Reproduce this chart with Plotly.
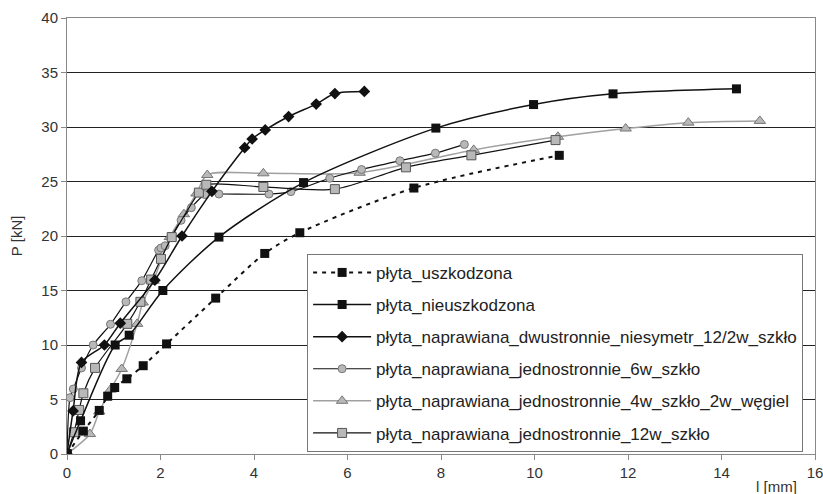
import plotly.graph_objects as go

# ---- data (deflection l [mm], load P [kN]) ----
names = [
    "płyta_uszkodzona",
    "płyta_nieuszkodzona",
    "płyta_naprawiana_dwustronnie_niesymetr_12/2w_szkło",
    "płyta_naprawiana_jednostronnie_6w_szkło",
    "płyta_naprawiana_jednostronnie_4w_szkło_2w_węgiel",
    "płyta_naprawiana_jednostronnie_12w_szkło",
]

uszk_x = [0, 0.35, 0.69, 0.87, 1.02, 1.28, 1.63, 2.13, 3.18, 4.23, 4.98, 7.42, 10.53]
uszk_y = [0, 2.1, 4.0, 5.3, 6.1, 6.9, 8.1, 10.1, 14.3, 18.4, 20.3, 24.4, 27.4]

nieuszk_x = [0, 0.29, 1.03, 1.33, 2.05, 3.25, 5.06, 7.89, 9.98, 11.68, 14.32]
nieuszk_y = [0, 3.05, 10.0, 10.9, 15.0, 19.9, 24.9, 29.9, 32.06, 33.04, 33.5]

dwu_x = [0, 0.13, 0.31, 0.8, 1.14, 1.88, 2.46, 3.1, 3.8, 3.96, 4.24, 4.74, 5.33, 5.73, 6.36]
dwu_y = [0, 3.95, 8.4, 10.0, 12.0, 15.95, 20.0, 24.1, 28.1, 28.9, 29.73, 30.96, 32.1, 33.07, 33.26]

w6_x = [0, 0.064, 0.135, 0.31, 0.56, 0.93, 1.26, 1.6, 1.96, 2.01, 2.1, 2.44, 2.66, 2.95, 3.25,
        4.32, 4.79, 5.62, 6.3, 7.12, 7.88, 8.5]
w6_y = [0, 5.17, 5.96, 7.9, 10.0, 11.9, 13.96, 15.9, 18.7, 18.9, 19.1, 21.44, 22.6, 23.8, 23.85,
        23.85, 24.07, 25.3, 26.1, 26.9, 27.6, 28.4]

w4_x = [0, 0.49, 0.69, 0.93, 1.17, 1.5, 1.62, 1.85, 2.2, 2.5, 2.77, 3.0, 4.2, 6.26, 8.7, 10.5,
        11.95, 13.29, 14.82]
w4_y = [0, 1.83, 3.9, 5.9, 7.8, 11.94, 13.9, 15.9, 19.9, 22.0, 23.9, 25.6, 25.75, 25.8, 27.9, 29.1,
        29.86, 30.4, 30.56]

w12_x = [0, 0.15, 0.26, 0.35, 0.6, 1.29, 1.57, 1.8, 2.01, 2.24, 2.82, 2.98, 4.2, 5.73, 7.25, 8.65, 10.45]
w12_y = [0, 2.0, 4.04, 5.57, 7.9, 11.94, 13.96, 16.0, 17.9, 19.9, 23.98, 24.7, 24.5, 24.3, 26.3, 27.4, 28.8]

x_ticks = [0, 2, 4, 6, 8, 10, 12, 14, 16]
y_ticks = [0, 5, 10, 15, 20, 25, 30, 35, 40]

# ---- styles ----
BLACK = "#111111"
GREYF = "#b8b8b8"
GREYL = "#777777"
series = [
    (uszk_x, uszk_y, dict(color=BLACK, width=2, dash="4px,5px"),
     dict(symbol="square", size=9, color=BLACK)),
    (nieuszk_x, nieuszk_y, dict(color=BLACK, width=1.5),
     dict(symbol="square", size=9, color=BLACK)),
    (dwu_x, dwu_y, dict(color=BLACK, width=1.5),
     dict(symbol="diamond", size=9, color=BLACK)),
    (w6_x, w6_y, dict(color=BLACK, width=1.2),
     dict(symbol="circle", size=8, color=GREYF, line=dict(color=GREYL, width=1))),
    (w4_x, w4_y, dict(color="#a0a0a0", width=1.5),
     dict(symbol="triangle-up", size=10, color=GREYF, line=dict(color=GREYL, width=1))),
    (w12_x, w12_y, dict(color=BLACK, width=1.2),
     dict(symbol="square", size=9, color=GREYF, line=dict(color="#555555", width=1))),
]

fig = go.Figure()
order = [4, 3, 5, 2, 1, 0]
for i in order:
    xs, ys, ln, mk = series[i]
    fig.add_trace(go.Scatter(
        x=xs, y=ys, mode="lines+markers", name=names[i],
        line=dict(shape="spline", smoothing=0.8, **ln),
        marker=mk, legendrank=i + 1, legendgroup=str(i),
    ))

FONT = "Liberation Sans, Arial, sans-serif"
fig.update_layout(
    width=823, height=494,
    margin=dict(l=67, r=8, t=18, b=40, autoexpand=False),
    paper_bgcolor="white", plot_bgcolor="white",
    font=dict(family=FONT, size=15, color="#333333"),
    showlegend=True,
    legend=dict(
        x=0.321, y=0.459, xanchor="left", yanchor="top",
        bgcolor="white", bordercolor="#777777", borderwidth=1,
        font=dict(family=FONT, size=17, color="#222222"),
        tracegroupgap=7, itemwidth=58,
    ),
    xaxis=dict(
        range=[0, 16], tickvals=x_ticks, ticktext=[str(v) for v in x_ticks],
        showgrid=False, zeroline=False, showline=True, linecolor="#888888",
        linewidth=1, mirror=True, ticks="outside", ticklen=5, tickcolor="#888888",
        tickfont=dict(size=15, color="#333333"), automargin=False,
        ticklabeloverflow="allow",
    ),
    yaxis=dict(
        range=[0, 40], tickvals=y_ticks, ticktext=[str(v) for v in y_ticks],
        showgrid=True, gridcolor="#222222", gridwidth=1, zeroline=False,
        showline=True, linecolor="#888888", linewidth=1, mirror=True,
        ticks="outside", ticklen=5, tickcolor="#888888",
        tickfont=dict(size=15, color="#333333"), automargin=False,
        ticklabeloverflow="allow",
    ),
    annotations=[
        dict(text="l [mm]", xref="paper", yref="paper", x=0.948, y=0,
             xanchor="center", yanchor="middle", yshift=-32, showarrow=False,
             font=dict(size=15, color="#333333")),
        dict(text="P [kN]", xref="paper", yref="paper", x=-0.068, y=0.5,
             xanchor="center", yanchor="middle", textangle=-90, showarrow=False,
             font=dict(size=15, color="#333333")),
    ],
)

fig.write_html(
    "out.html",
    config={"displayModeBar": False},
    post_script="document.body.style.margin='0';document.body.style.overflow='hidden';",
)
